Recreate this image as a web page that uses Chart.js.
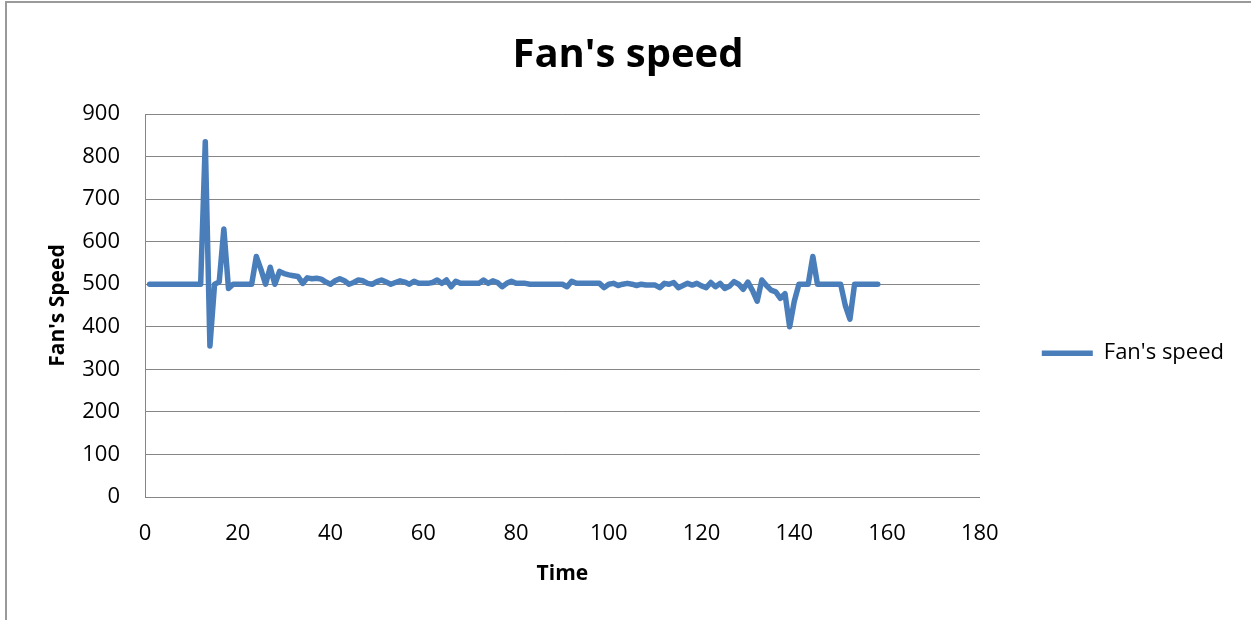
<!DOCTYPE html>
<html>
<head>
<meta charset="utf-8">
<title>Fan's speed</title>
<script src="https://cdn.jsdelivr.net/npm/chart.js@4.4.0/dist/chart.umd.min.js"></script>
<style>
  html, body { margin: 0; padding: 0; background: #fff; overflow: hidden; }
  #frame { position: absolute; left: 5px; top: 1px; width: 1400px; height: 800px;
           border-left: 2px solid #9a9a9a; border-top: 2px solid #9a9a9a; }
  #wrap { position: absolute; left: 0; top: 0; width: 1251px; height: 620px; }
</style>
</head>
<body>
<div id="frame"></div>
<div id="wrap"><canvas id="mycanvas"></canvas></div>
<script>
// time steps (x) and fan speed readings (y)
var times = [
  1, 2, 3, 4, 5, 6, 7, 8, 9, 10,
  11, 12, 13, 14, 15, 16, 17, 18, 19, 20,
  21, 22, 23, 24, 25, 26, 27, 28, 29, 30,
  31, 32, 33, 34, 35, 36, 37, 38, 39, 40,
  41, 42, 43, 44, 45, 46, 47, 48, 49, 50,
  51, 52, 53, 54, 55, 56, 57, 58, 59, 60,
  61, 62, 63, 64, 65, 66, 67, 68, 69, 70,
  71, 72, 73, 74, 75, 76, 77, 78, 79, 80,
  81, 82, 83, 84, 85, 86, 87, 88, 89, 90,
  91, 92, 93, 94, 95, 96, 97, 98, 99, 100,
  101, 102, 103, 104, 105, 106, 107, 108, 109, 110,
  111, 112, 113, 114, 115, 116, 117, 118, 119, 120,
  121, 122, 123, 124, 125, 126, 127, 128, 129, 130,
  131, 132, 133, 134, 135, 136, 137, 138, 139, 140,
  141, 142, 143, 144, 145, 146, 147, 148, 149, 150,
  151, 152, 153, 154, 155, 156, 157, 158
];
var fanSpeed = [
  500, 500, 500, 500, 500, 500, 500, 500, 500, 500,
  500, 500, 835, 355, 500, 505, 630, 490, 500, 500,
  500, 500, 500, 565, 535, 500, 540, 500, 530, 525,
  522, 520, 518, 502, 515, 513, 514, 512, 505, 500,
  508, 513, 508, 500, 504, 510, 508, 502, 500, 506,
  510, 505, 500, 504, 508, 505, 500, 507, 502, 502,
  502, 504, 510, 502, 510, 494, 507, 502, 502, 502,
  502, 502, 510, 502, 508, 504, 494, 502, 507, 502,
  502, 502, 500, 500, 500, 500, 500, 500, 500, 500,
  494, 507, 502, 502, 502, 502, 502, 502, 492, 500,
  502, 497, 500, 502, 500, 497, 500, 498, 498, 498,
  492, 502, 500, 504, 492, 497, 502, 498, 502, 496,
  492, 504, 494, 502, 490, 495, 506, 500, 488, 505,
  485, 460, 510, 497, 486, 482, 467, 478, 400, 460,
  500, 500, 500, 565, 500, 500, 500, 500, 500, 500,
  450, 418, 500, 500, 500, 500, 500, 500
];
var xTicks = { min: 0, max: 180, step: 20 };
var yTicks = { min: 0, max: 900, step: 100 };

var lineBlue = '#4a7ebb';
var gridGrey = '#868686';

Chart.defaults.font.family = "'Open Sans', 'DejaVu Sans', sans-serif";
Chart.defaults.color = '#000';

var points = [];
for (var i in fanSpeed) {
  points.push({ x: times[i], y: fanSpeed[i] });
}

var ctx = document.getElementById('mycanvas');

var lineGraph = new Chart(ctx, {
  type: 'line',
  data: {
    datasets: [
      {
        label: "Fan's speed",
        data: points,
        borderColor: lineBlue,
        backgroundColor: lineBlue,
        borderWidth: 5.5,
        borderJoinStyle: 'round',
        borderCapStyle: 'round',
        pointRadius: 0,
        tension: 0,
        fill: false
      }
    ]
  },
  options: {
    responsive: true,
    maintainAspectRatio: false,
    animation: false,
    layout: { padding: { left: 22, right: 17, top: 0, bottom: 0 } },
    plugins: {
      title: {
        display: true,
        text: "Fan's speed",
        color: '#000',
        font: { size: 40, weight: 'bold' },
        padding: { top: 32, bottom: 34 }
      },
      legend: {
        position: 'right',
        align: 'center',
        // empty legend title just pushes the entry down a bit
        title: { display: true, text: '', font: { size: 12 }, padding: 36 },
        labels: {
          usePointStyle: true,
          pointStyle: 'line',
          pointStyleWidth: 51,
          padding: 62,
          color: '#000',
          font: { size: 22 }
        }
      },
      tooltip: { enabled: false }
    },
    scales: {
      x: {
        type: 'linear',
        min: xTicks.min,
        max: xTicks.max,
        ticks: { stepSize: xTicks.step, color: '#000', font: { size: 22 }, padding: 24 },
        grid: { display: false, drawTicks: false },
        border: { display: true, color: gridGrey, width: 1 },
        title: {
          display: true,
          text: 'Time',
          color: '#000',
          font: { size: 21, weight: 'bold' },
          padding: { top: 0, bottom: 33 }
        },
        afterFit: function(scale) { scale.height = 123; }
      },
      y: {
        min: yTicks.min,
        max: yTicks.max,
        ticks: { stepSize: yTicks.step, color: '#000', font: { size: 22 }, padding: 25 },
        grid: { color: gridGrey, lineWidth: 1, drawTicks: false },
        border: { display: true, color: gridGrey, width: 1 },
        title: {
          display: true,
          text: "Fan's Speed",
          color: '#000',
          font: { size: 21, weight: 'bold' },
          padding: { top: 23, bottom: 0 }
        },
        afterFit: function(scale) { scale.width = 123; }
      }
    }
  }
});
</script>
</body>
</html>
